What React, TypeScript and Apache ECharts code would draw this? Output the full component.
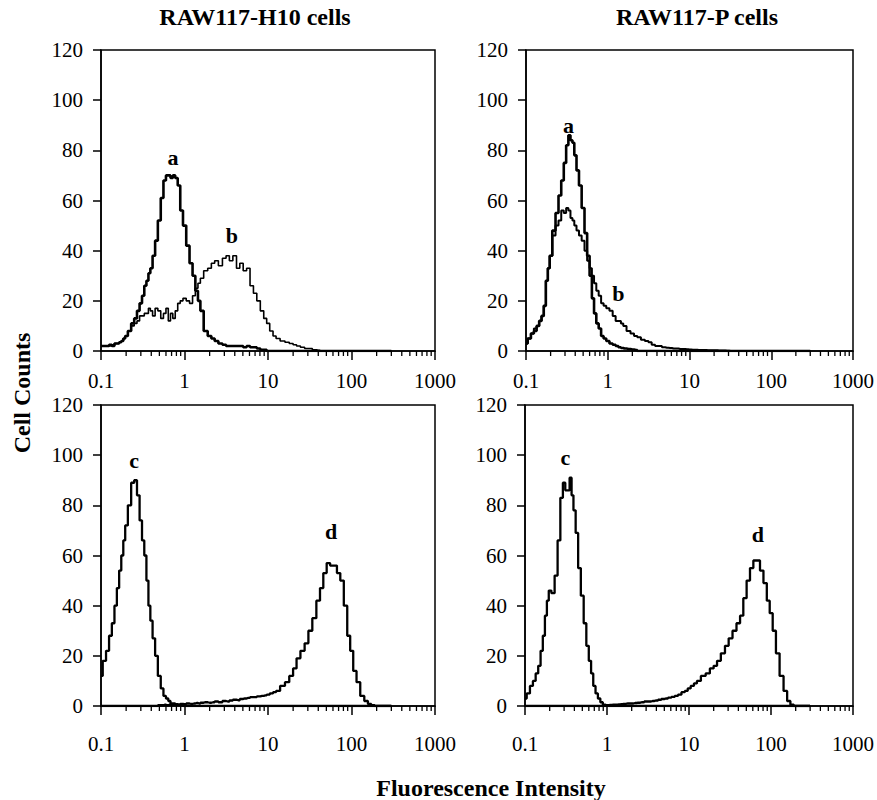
import React, { useEffect, useRef } from "react";
import * as echarts from "echarts";

// Channel positions (fluorescence intensity, log scale)
const bins = [
  0.10, 0.11, 0.12, 0.13, 0.14, 0.15, 0.16, 0.17, 0.18, 0.19,
  0.20, 0.22, 0.24, 0.26, 0.28, 0.30, 0.32, 0.34, 0.36, 0.38,
  0.40, 0.43, 0.46, 0.50, 0.54, 0.58, 0.62, 0.66, 0.70, 0.75,
  0.80, 0.86, 0.92, 1.0, 1.1, 1.2, 1.3, 1.4, 1.5, 1.6,
  1.8, 2.0, 2.2, 2.4, 2.7, 3.0, 3.3, 3.6, 4.0, 4.4,
  4.8, 5.3, 5.8, 6.4, 7.0, 7.7, 8.5, 9.3, 10, 11,
  12, 13, 15, 17, 19, 21, 23, 26, 29, 32,
  36, 40, 44, 48, 53, 58, 64, 70, 77, 85,
  93, 100, 110, 120, 135, 150, 165, 180, 200, 220,
  250, 300,
];

// RAW117-H10, histogram a (thick)
const h10A = [
  2, 2, 2, 2.5, 2, 3, 3, 3.5, 4, 5,
  6, 8, 11, 13, 16, 19, 22, 26, 28, 31,
  33, 38, 44, 52, 61, 68, 70, 70, 69, 70,
  69, 66, 56, 50, 42, 35, 30, 24, 20, 16,
  8, 6, 5, 4, 3, 2.5, 2, 2, 2, 2,
  2, 1.5, 2, 1.5, 1.5, 1, 0.5, 0.5, 0, 0,
  0, 0, 0, 0, 0, 0, 0, 0, 0, 0,
  0, 0, 0, 0, 0, 0, 0, 0, 0, 0,
  0, 0, 0, 0, 0, 0, 0, 0, 0, 0,
  0, 0,
];
// RAW117-H10, histogram b (thin)
const h10B = [
  2, 2, 2, 2, 2.5, 3, 3, 3.5, 4, 5,
  6, 8, 10, 11, 12, 14, 14, 15, 15, 17,
  16, 14, 17, 16, 13, 15, 17, 12, 15, 13,
  16, 19, 20, 21, 20, 19, 22, 25, 27, 29,
  32, 33, 35, 36, 34, 37, 38, 36, 38, 33,
  35, 32, 33, 26, 23, 20, 16, 13, 11, 8,
  6, 5, 4, 3.5, 3, 2.5, 2, 1.5, 1, 1,
  0.5, 0.3, 0, 0, 0, 0, 0, 0, 0, 0,
  0, 0, 0, 0, 0, 0, 0, 0, 0, 0,
  0, 0,
];
// RAW117-P, histogram a (thick)
const pA = [
  3, 5, 7, 8, 10, 12, 14, 18, 28, 33,
  38, 48, 55, 62, 68, 75, 82, 86, 84, 83,
  78, 72, 66, 57, 47, 38, 30, 21, 15, 11,
  9, 6, 5, 4, 3, 2.5, 2, 1.5, 1.2, 1,
  0.8, 0.6, 0.4, 0, 0, 0, 0, 0, 0, 0,
  0, 0, 0, 0, 0, 0, 0, 0, 0, 0,
  0, 0, 0, 0, 0, 0, 0, 0, 0, 0,
  0, 0, 0, 0, 0, 0, 0, 0, 0, 0,
  0, 0, 0, 0, 0, 0, 0, 0, 0, 0,
  0, 0,
];
// RAW117-P, histogram b (thin)
const pB = [
  3, 5, 7, 9, 10, 12, 14, 18, 28, 33,
  38, 46, 50, 52, 56, 55, 57, 56, 53, 52,
  50, 48, 46, 44, 40, 36, 33, 30, 27, 24,
  22, 19, 18, 17, 16, 14, 12, 12, 11, 10,
  8, 7, 6, 5.5, 4.5, 4, 3.5, 2.5, 2, 2,
  1.5, 1.3, 1.2, 1, 1, 0.8, 0.8, 0.7, 0.6, 0.5,
  0.5, 0.4, 0.4, 0.3, 0.3, 0.3, 0.2, 0.2, 0.1, 0,
  0, 0, 0, 0, 0, 0, 0, 0, 0, 0,
  0, 0, 0, 0, 0, 0, 0, 0, 0, 0,
  0, 0,
];
// RAW117-H10, histogram c
const h10C = [
  12, 18, 22, 28, 33, 40, 47, 54, 60, 66,
  72, 80, 89, 90, 84, 74, 66, 60, 50, 40,
  34, 27, 20, 12, 7, 4, 3, 2, 1, 1,
  0.5, 0.5, 0.3, 0, 0, 0, 0, 0, 0, 0,
  0, 0, 0, 0, 0, 0, 0, 0, 0, 0,
  0, 0, 0, 0, 0, 0, 0, 0, 0, 0,
  0, 0, 0, 0, 0, 0, 0, 0, 0, 0,
  0, 0, 0, 0, 0, 0, 0, 0, 0, 0,
  0, 0, 0, 0, 0, 0, 0, 0, 0, 0,
  0, 0,
];
// RAW117-H10, histogram d
const h10D = [
  0, 0, 0, 0, 0, 0, 0, 0, 0, 0,
  0, 0, 0, 0, 0, 0, 0, 0, 0, 0,
  0, 0, 0, 0.3, 0.3, 0.5, 0.3, 0.5, 0.5, 0.5,
  0.7, 0.5, 0.8, 0.7, 1, 0.8, 1, 1.2, 1, 1.3,
  1.5, 1.3, 1.5, 1.8, 1.5, 2, 1.8, 2.2, 2.5, 2.3,
  2.8, 3, 3.2, 3.5, 3.5, 3.8, 4, 4.2, 4.5, 5,
  5.5, 6, 8, 9.5, 12, 15, 19, 22, 25, 30,
  35, 42, 47, 53, 57, 56, 56, 53, 50, 40,
  28, 22, 14, 9.5, 4, 2, 0.8, 0.3, 0, 0,
  0, 0,
];
// RAW117-P, histogram c
const pC = [
  3, 5, 8, 10, 13, 16, 22, 28, 36, 42,
  46, 45, 52, 66, 83, 89, 86, 86, 91, 84,
  78, 69, 55, 44, 33, 24, 18, 13, 8, 5,
  3, 1.5, 0.5, 0.3, 0, 0, 0, 0, 0, 0,
  0, 0, 0, 0, 0, 0, 0, 0, 0, 0,
  0, 0, 0, 0, 0, 0, 0, 0, 0, 0,
  0, 0, 0, 0, 0, 0, 0, 0, 0, 0,
  0, 0, 0, 0, 0, 0, 0, 0, 0, 0,
  0, 0, 0, 0, 0, 0, 0, 0, 0, 0,
  0, 0,
];
// RAW117-P, histogram d
const pD = [
  0, 0, 0, 0, 0, 0, 0, 0, 0, 0,
  0, 0, 0, 0, 0, 0, 0, 0, 0, 0,
  0, 0, 0, 0, 0, 0, 0, 0, 0, 0,
  0, 0, 0, 0.3, 0.4, 0.5, 0.5, 0.6, 0.7, 0.8,
  1, 1, 1.2, 1.3, 1.5, 1.8, 1.8, 2, 2.2, 2.5,
  2.8, 3, 3.3, 3.6, 4, 4.5, 5.5, 6, 7, 8,
  9, 10, 12, 13, 15, 16, 18, 21, 24, 27,
  30, 33, 36, 43, 50, 55, 58, 58, 54, 49,
  42, 37, 30, 21, 12, 6, 2, 0.5, 0, 0,
  0, 0,
];

const xTickLabels = ["0.1", "1", "10", "100", "1000"];
const minorMultipliers = [2, 3, 4, 5, 6, 7, 8, 9];
const decades = [0.1, 1, 10, 100];
const panelTitles = ["RAW117-H10 cells", "RAW117-P cells"];
const yAxisName = "Cell Counts";
const xAxisName = "Fluorescence Intensity";

// Peak annotations in data coordinates [x, y]
const annotTL = [{ name: "a", value: [0.73, 77] }, { name: "b", value: [3.7, 46] }];
const annotTR = [{ name: "a", value: [0.33, 90] }, { name: "b", value: [1.35, 23] }];
const annotBL = [{ name: "c", value: [0.25, 98] }, { name: "d", value: [57, 69.5] }];
const annotBR = [{ name: "c", value: [0.31, 99] }, { name: "d", value: [69, 68.5] }];

const SERIF = '"Liberation Serif", "Times New Roman", "DejaVu Serif", serif';

export default function App() {
  const ref = useRef<HTMLDivElement>(null);
  useEffect(() => {
    if (!ref.current) return;
    const chart = echarts.init(ref.current, undefined, { renderer: "svg" });

    const grids = [
      { left: 101, top: 50, width: 334, height: 301 },
      { left: 526, top: 50, width: 335, height: 301 },
      { left: 101, top: 405, width: 334, height: 301 },
      { left: 525, top: 405, width: 336, height: 301 },
    ];
    const labelMargins = [19, 19, 27, 27];

    const panels = [
      { curves: [h10A, h10B], widths: [2.6, 1.6], annots: annotTL },
      { curves: [pA, pB], widths: [2.6, 2.0], annots: annotTR },
      { curves: [h10C], widths: [2.3], annots: annotBL },
      { curves: [pC], widths: [2.3], annots: annotBR },
    ];
    // bottom panels carry c and d as separate histograms
    (panels[2].curves as number[][]).push(h10D);
    (panels[2].widths as number[]).push(2.3);
    (panels[3].curves as number[][]).push(pD);
    (panels[3].widths as number[]).push(2.3);

    const minorTicks: number[][] = [];
    decades.forEach((d) => minorMultipliers.forEach((m) => minorTicks.push([d * m, 0])));

    const lineStyle = { color: "#000", width: 1.5 };

    const xAxes = grids.map((_, i) => ({
      type: "log",
      gridIndex: i,
      min: 0.1,
      max: 1000,
      logBase: 10,
      axisLine: { show: true, onZero: false, lineStyle },
      axisTick: { show: true, length: 9, lineStyle },
      minorTick: { show: false },
      splitLine: { show: false },
      axisLabel: {
        margin: labelMargins[i],
        fontSize: 21,
        lineHeight: 21,
        fontFamily: SERIF,
        color: "#000",
        formatter: (v: number) => xTickLabels[Math.round(Math.log10(v)) + 1] ?? "",
      },
    }));
    const yAxes = grids.map((_, i) => ({
      type: "value",
      gridIndex: i,
      min: 0,
      max: 120,
      interval: 20,
      axisLine: { show: true, onZero: false, lineStyle },
      axisTick: { show: true, length: 8, lineStyle },
      splitLine: { show: false },
      axisLabel: { margin: 18, fontSize: 21, fontFamily: SERIF, color: "#000" },
    }));

    const series: any[] = [];
    panels.forEach((p, i) => {
      p.curves.forEach((vals, k) => {
        series.push({
          type: "line",
          xAxisIndex: i,
          yAxisIndex: i,
          step: "middle",
          symbol: "none",
          silent: true,
          lineStyle: { color: "#000", width: p.widths[k] },
          data: bins.map((x, j) => [x, vals[j]]),
          z: 3,
        });
      });
      series.push({
        type: "custom",
        xAxisIndex: i,
        yAxisIndex: i,
        silent: true,
        clip: false,
        data: minorTicks,
        renderItem: (params: any, api: any) => {
          const pt = api.coord([api.value(0), api.value(1)]);
          return {
            type: "line",
            shape: { x1: pt[0], y1: pt[1], x2: pt[0], y2: pt[1] + 5 },
            style: { stroke: "#000", lineWidth: 1.3 },
          };
        },
      });
      series.push({
        type: "custom",
        xAxisIndex: i,
        yAxisIndex: i,
        silent: true,
        clip: false,
        data: p.annots,
        renderItem: (params: any, api: any) => {
          const pt = api.coord([api.value(0), api.value(1)]);
          return {
            type: "text",
            x: pt[0],
            y: pt[1],
            style: {
              text: p.annots[params.dataIndex].name,
              fontSize: 22,
              fontWeight: "bold",
              fontFamily: SERIF,
              fill: "#000",
              align: "center",
              verticalAlign: "middle",
            },
          };
        },
        z: 5,
      });
    });

    const txt = (text: string, x: number, y: number, rot = 0) => ({
      type: "text",
      x,
      y,
      rotation: rot,
      style: {
        text,
        fontSize: 24,
        fontWeight: "bold",
        fontFamily: SERIF,
        fill: "#000",
        align: "center",
        verticalAlign: "middle",
      },
    });

    chart.setOption({
      animation: false,
      backgroundColor: "#fff",
      grid: grids.map((g) => ({
        ...g,
        show: true,
        borderColor: "#000",
        borderWidth: 1.5,
        backgroundColor: "transparent",
      })),
      xAxis: xAxes,
      yAxis: yAxes,
      series,
      graphic: [
        txt(panelTitles[0], 255, 17),
        txt(panelTitles[1], 697, 17),
        txt(yAxisName, 22, 393, Math.PI / 2),
        txt(xAxisName, 491, 788),
      ],
    });
    return () => chart.dispose();
  }, []);
  return (
    <div
      ref={ref}
      style={{ position: "absolute", left: 0, top: 0, width: 877, height: 800, background: "#fff" }}
    />
  );
}
